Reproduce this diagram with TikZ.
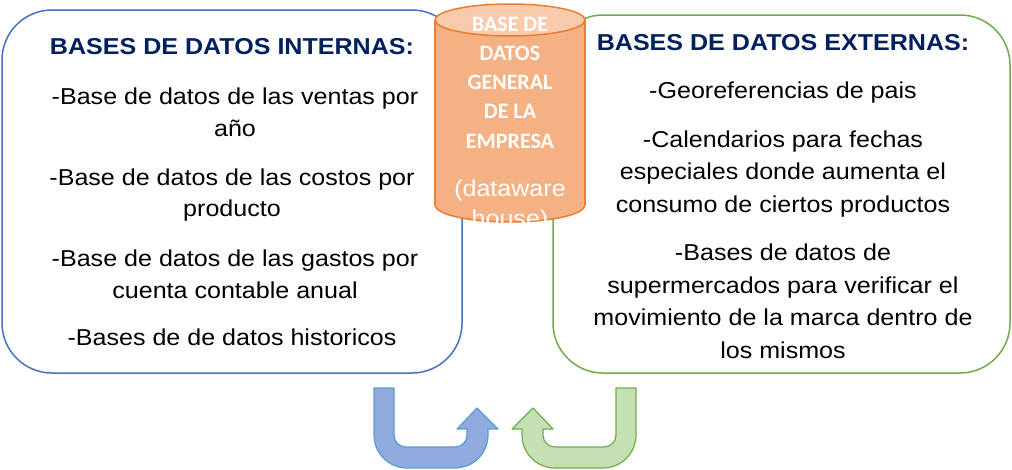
\documentclass[tikz,border=0pt]{standalone}
\usepackage{fontspec}
\setmainfont[FakeStretch=1.09]{Liberation Sans}
\newfontfamily\calfont{Carlito}
\definecolor{boxblue}{HTML}{4472C4}
\definecolor{boxgreen}{HTML}{70AD47}
\definecolor{navy}{HTML}{002060}
\definecolor{cylstroke}{HTML}{ED7D31}
\definecolor{cylbody}{HTML}{F4B183}
\definecolor{cyltop}{HTML}{F8CBAD}
\definecolor{arrblue}{HTML}{8FAADC}
\definecolor{arrbluestroke}{HTML}{5B9BD5}
\definecolor{arrgreen}{HTML}{C5E0B4}
\tikzset{
  panel/.style={draw, line width=1.5pt, fill=white, rounded corners=50pt, inner sep=0pt},
  titletext/.style={font=\bfseries\fontsize{23}{31}\selectfont, text=navy, inner sep=0pt},
  itemtext/.style={font=\fontsize{23}{31.5}\selectfont, align=center, inner sep=0pt},
  itemtextr/.style={font=\fontsize{23}{32.5}\selectfont, align=center, inner sep=0pt},
  cyltext/.style={font=\calfont\bfseries\fontsize{22}{29.3}\selectfont, text=white, align=center, inner sep=0pt},
  cylsub/.style={font=\fontsize{23}{30}\selectfont, text=white, align=center, inner sep=0pt},
  uarrowblue/.style={fill=arrblue, draw=arrbluestroke, line width=1.2pt, line join=round},
  uarrowgreen/.style={fill=arrgreen, draw=boxgreen, line width=1.2pt, line join=round}
}
\begin{document}
\begin{tikzpicture}[x=1pt,y=-1pt]
\useasboundingbox (0,0) rectangle (1012,469);
% panels
\node[panel, draw=boxblue, minimum width=460pt, minimum height=363pt] (lbox) at (232,191.5) {};
\node[panel, draw=boxgreen, minimum width=457pt, minimum height=358pt] (rbox) at (781.5,194) {};
% cylinder
\fill[cylbody, draw=cylstroke, line width=1.5pt] (510,205) ellipse [x radius=75, y radius=17];
\fill[cylbody] (435,20) rectangle (585,205);
\draw[cylstroke, line width=1.5pt] (435,20) -- (435,205) (585,20) -- (585,205);
\filldraw[fill=cyltop, draw=cylstroke, line width=1.5pt] (510,20) ellipse [x radius=75, y radius=16];
\node[cyltext] (cylname) at (510,82.5) {BASE DE\\DATOS\\GENERAL\\DE LA\\EMPRESA};
\node[cylsub] (cylsubname) at (510,206) {(dataware\\house)};
% left texts
\node[titletext] (ltitle) at (232,47) {BASES DE DATOS INTERNAS:};
\node[itemtext] (l1) at (235,112.5) {-Base de datos de las ventas por\\año};
\node[itemtext] (l2) at (232,195) {-Base de datos de las costos por\\producto};
\node[itemtext] (l3) at (235,274.5) {-Base de datos de las gastos por\\cuenta contable anual};
\node[itemtext] (l4) at (232,337.5) {-Bases de de datos historicos};
% right texts
\node[titletext] (rtitle) at (783,43) {BASES DE DATOS EXTERNAS:};
\node[itemtextr] (r1) at (783,93) {-Georeferencias de pais};
\node[itemtextr] (r2) at (783,174) {-Calendarios para fechas\\especiales donde aumenta el\\consumo de ciertos productos};
\node[itemtextr] (r3) at (783,301.5) {-Bases de datos de\\supermercados para verificar el\\movimiento de la marca dentro de\\los mismos};
% U-turn arrows
\draw[uarrowblue] (374,388) -- (394,388) -- (394,435)
  .. controls (394,441.6) and (399.4,447) .. (406,447) -- (455,447)
  .. controls (461.6,447) and (467,441.6) .. (467,435) -- (467,429) -- (457,429) -- (477,408) -- (498,429) -- (488,429) -- (488,435)
  .. controls (488,453.2) and (473.2,468) .. (455,468) -- (407,468)
  .. controls (388.8,468) and (374,453.2) .. (374,435) -- cycle;
\draw[uarrowgreen] (636,388) -- (616,388) -- (616,435)
  .. controls (616,441.6) and (610.6,447) .. (604,447) -- (555,447)
  .. controls (548.4,447) and (543,441.6) .. (543,435) -- (543,429) -- (553,429) -- (533,408) -- (512,429) -- (522,429) -- (522,435)
  .. controls (522,453.2) and (536.8,468) .. (555,468) -- (603,468)
  .. controls (621.2,468) and (636,453.2) .. (636,435) -- cycle;
\end{tikzpicture}
\end{document}
